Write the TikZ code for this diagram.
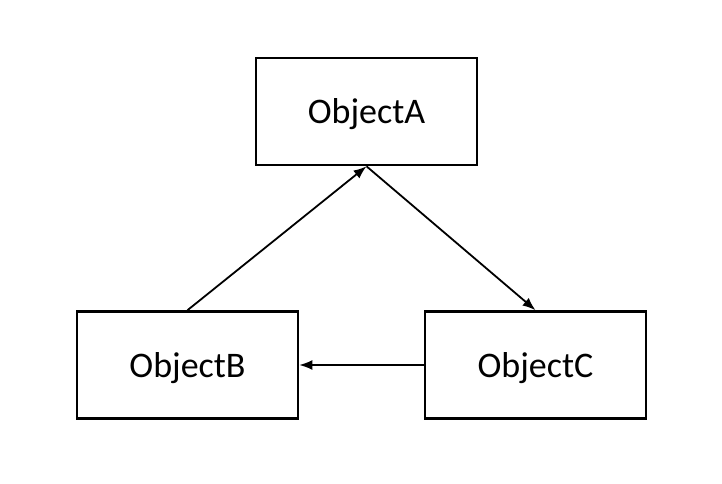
\documentclass[tikz,border=0pt]{standalone}
\usepackage{fontspec}
\setmainfont{Carlito}
\usetikzlibrary{arrows.meta,positioning}

\begin{document}
\begin{tikzpicture}[x=1pt,y=-1pt,
	objbox/.style={draw,line width=2.6pt,minimum width=221pt,minimum height=107pt,inner sep=0pt,text depth=0pt,font=\fontsize{36}{42}\selectfont},
	link/.style={-{Latex[length=13pt,width=10pt]},line width=1.8pt}]
				\useasboundingbox (0,0) rectangle (722,484);
				
				\node[objbox] (objA) at (366.5,111.5) {ObjectA};
				\node[objbox] (objB) at (187.5,365) {ObjectB};
				\node[objbox] (objC) at (535.5,365) {ObjectC};
				
				\draw[link] (objB.north) -- (objA.south);
				\draw[link] (objA.south) -- (objC.north);
				\draw[link] (objC.west) -- (objB.east);
			\end{tikzpicture}
\end{document}
